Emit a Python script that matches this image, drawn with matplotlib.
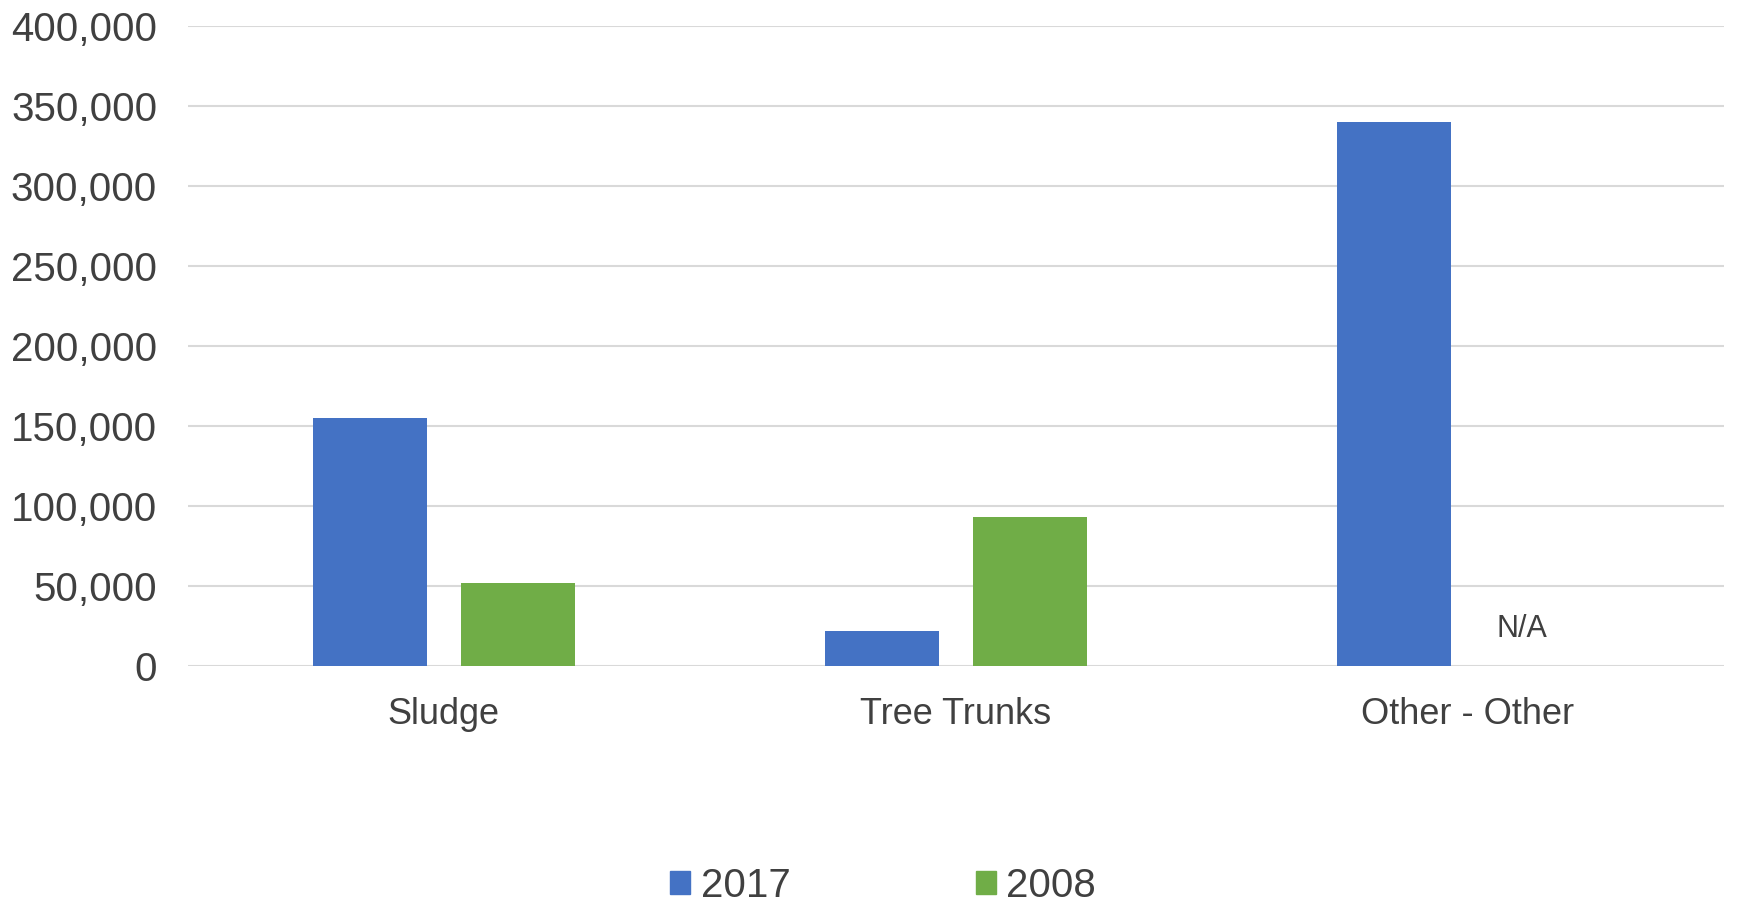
import matplotlib.pyplot as plt
import numpy as np
from matplotlib.ticker import FuncFormatter
from matplotlib.patches import Patch

categories = ["Sludge", "Tree Trunks", "Other - Other"]
values_2017 = [155000, 22000, 340000]
values_2008 = [52000, 93000, np.nan]
series_names = ["2017", "2008"]
na_label = "N/A"

BLUE = "#4472C4"
GREEN = "#70AD47"
TEXT = "#404040"

plt.rcParams['font.family'] = ['Liberation Sans', 'DejaVu Sans']

fig = plt.figure(figsize=(17.38, 9), dpi=100)
ax = fig.add_axes([0.108, 0.26, 0.884, 0.7114])

x = np.arange(len(categories))
w = 0.223
off = 0.1445
ax.bar(x - off, values_2017, w, color=BLUE, zorder=3)
ax.bar(x + off, np.nan_to_num(values_2008), w, color=GREEN, zorder=3)

# missing 2008 value
for i, v in enumerate(values_2008):
    if np.isnan(v):
        ax.text(x[i] + off - 0.04, 23000, na_label, ha='center', va='center',
                fontsize=22, color=TEXT)

ax.set_xlim(-0.5, len(categories) - 0.5)
ax.set_ylim(0, 400000)
ax.set_yticks(np.arange(0, 400001, 50000))
ax.yaxis.set_major_formatter(FuncFormatter(lambda v, p: f"{int(v):,}"))
ax.set_xticks(x)
ax.set_xticklabels(categories)
ax.grid(axis='y', color='#d9d9d9', linewidth=1.5, zorder=0)
for s in ax.spines.values():
    s.set_visible(False)
ax.tick_params(axis='y', length=0, labelsize=29, labelcolor=TEXT, pad=22)
ax.tick_params(axis='x', length=0, labelsize=26, labelcolor=TEXT, pad=22)

handles = [Patch(color=BLUE), Patch(color=GREEN)]
fig.legend(handles, series_names, loc='center', bbox_to_anchor=(0.508, 0.016),
           ncol=2, frameon=False, fontsize=29, handlelength=0.5, handleheight=0.5,
           handletextpad=0.25, columnspacing=4.6, labelcolor=TEXT)

fig.savefig("out.png", dpi=100)
